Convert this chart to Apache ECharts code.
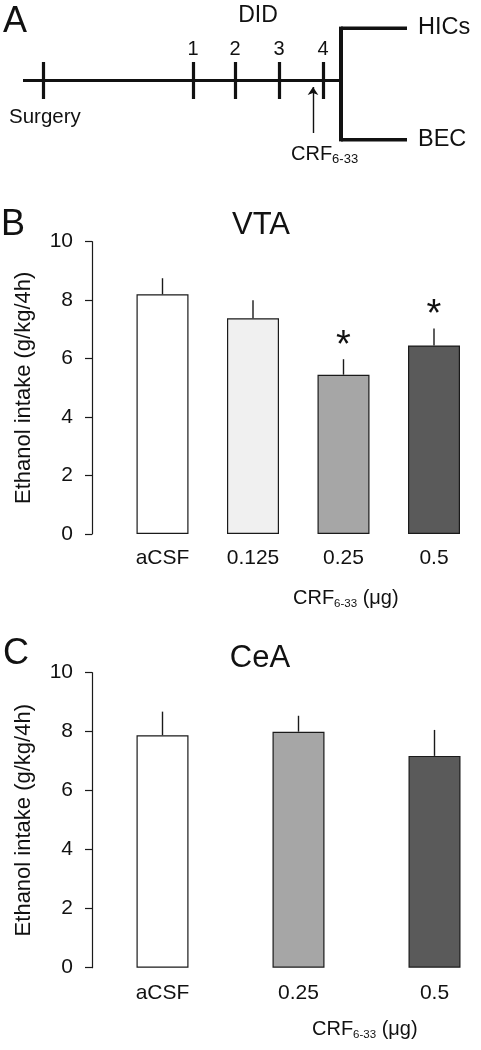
<!DOCTYPE html>
<html>
<head>
<meta charset="utf-8">
<script src="https://cdn.jsdelivr.net/npm/echarts@6/dist/echarts.min.js"></script>
<style>
html,body{margin:0;padding:0;background:#fff;}
#main{width:481px;height:1050px;}
</style>
</head>
<body>
<div id="main"></div>
<script>
// ---------- Panel A: schematic timeline (schematic units) ----------
const timelineLabels = ['Surgery', '1', '2', '3', '4'];
const timelinePos = [5, 42.5, 53, 64, 75];
const timelineStart = 0;
const timelineBranch = 79.5;
const timelineEnd = 96;
const injectionPos = 72.5;

// ---------- Panel B: VTA ----------
const vtaCategories = ['aCSF', '0.125', '0.25', '0.5'];
const vtaMeans = [8.2, 7.38, 5.45, 6.45];
const vtaSEM = [0.55, 0.62, 0.53, 0.58];
const vtaSignificant = [false, false, true, true];

// ---------- Panel C: CeA ----------
const ceaCategories = ['aCSF', '0.25', '0.5'];
const ceaMeans = [7.88, 8.0, 7.18];
const ceaSEM = [0.8, 0.54, 0.88];

const yMin = 0, yMax = 10, yInterval = 2;
const yName = 'Ethanol intake (g/kg/4h)';

const FONT = "'Liberation Sans', Arial, Helvetica, sans-serif";
const barColor = { 'aCSF': '#ffffff', '0.125': '#f0f0f0', '0.25': '#a6a6a6', '0.5': '#5a5a5a' };

const chart = echarts.init(document.getElementById('main'), null, { renderer: 'canvas' });

const mainY = 53.6, tickTop = 69.6, tickBot = 36.6, topY = 100, botY = 0;
const timelineLines = [
  { coords: [[timelineStart, mainY], [timelineBranch, mainY]], lineStyle: { width: 3.2 } },
  ...timelinePos.map(p => ({ coords: [[p, tickTop], [p, tickBot]], lineStyle: { width: 3.2 } })),
  { coords: [[timelineBranch, topY + 1.5], [timelineBranch, botY - 1.5]], lineStyle: { width: 4 } },
  { coords: [[timelineBranch, topY], [timelineEnd, topY]], lineStyle: { width: 4 } },
  { coords: [[timelineBranch, botY], [timelineEnd, botY]], lineStyle: { width: 4 } }
];

function barSeries(cats, means, ax) {
  return {
    type: 'bar', xAxisIndex: ax, yAxisIndex: ax, barWidth: 52, silent: true,
    data: means.map((v, i) => ({ value: v, itemStyle: { color: barColor[cats[i]], borderColor: '#1a1a1a', borderWidth: 1.2 } })),
    animation: false
  };
}
function errSeries(means, sem, ax) {
  return {
    type: 'custom', xAxisIndex: ax, yAxisIndex: ax, silent: true, animation: false, z: 1,
    data: means.map((v, i) => [i, v, sem[i]]),
    renderItem: function (params, api) {
      const a = api.coord([api.value(0), api.value(1)]);
      const b = api.coord([api.value(0), api.value(1) + api.value(2)]);
      return { type: 'line', shape: { x1: a[0], y1: a[1], x2: b[0], y2: b[1] }, style: { stroke: '#1a1a1a', lineWidth: 1.4 } };
    }
  };
}
function starSeries(means, sem, sig, ax) {
  return {
    type: 'custom', xAxisIndex: ax, yAxisIndex: ax, silent: true, animation: false,
    data: means.map((v, i) => [i, v + sem[i], sig[i] ? 1 : 0]).filter(d => d[2] === 1),
    renderItem: function (params, api) {
      const p = api.coord([api.value(0), api.value(1)]);
      return { type: 'text', x: p[0], y: p[1] - 32, style: { text: '*', font: '38px ' + FONT, fill: '#111', align: 'center', verticalAlign: 'top' } };
    }
  };
}

function yAxisCfg(gi) {
  return {
    type: 'value', gridIndex: gi, min: yMin, max: yMax, interval: yInterval, offset: 70.5,
    axisLine: { show: true, lineStyle: { color: '#1a1a1a', width: 1.2 } },
    axisTick: { show: true, length: 7, lineStyle: { color: '#1a1a1a', width: 1.2 } },
    splitLine: { show: false },
    axisLabel: { fontSize: 21, color: '#111', fontFamily: FONT, margin: 19 },
    name: yName, nameLocation: 'middle', nameRotate: 90, nameGap: 57,
    nameTextStyle: { fontSize: 22, color: '#111', fontFamily: FONT }
  };
}
function xAxisCfg(gi, cats, margin) {
  return {
    type: 'category', gridIndex: gi, data: cats, boundaryGap: false,
    axisLine: { show: false }, axisTick: { show: false },
    axisLabel: { fontSize: 21, color: '#111', fontFamily: FONT, margin: margin }
  };
}

function txt(text, x, y, size, align) {
  return { type: 'text', x: x, y: y, silent: true,
    style: { text: text, font: size + 'px ' + FONT, fill: '#111', align: align || 'left', verticalAlign: 'middle' } };
}
function crfLabel(x, y, size, subSize, unit) {
  return { type: 'text', x: x, y: y, silent: true,
    style: {
      text: '{m|CRF}{s|6-33}' + (unit ? '{m| (μg)}' : ''),
      font: size + 'px ' + FONT, fill: '#111', align: 'left', verticalAlign: 'middle',
      rich: {
        m: { fontSize: size, fontFamily: FONT, fill: '#111', lineHeight: size + 2, verticalAlign: 'top' },
        s: { fontSize: subSize, fontFamily: FONT, fill: '#111', lineHeight: subSize, verticalAlign: 'bottom', padding: [Math.round(size * 0.8), 0, 0, 0] }
      }
    } };
}

const option = {
  backgroundColor: '#ffffff',
  animation: false,
  grid: [
    { left: 23, width: 400, top: 28, height: 112 },
    { left: 162.5, right: 47, top: 241.7, bottom: 1050 - 534 },
    { left: 162.5, right: 46.5, top: 672.7, bottom: 1050 - 967.7 }
  ],
  xAxis: [
    { type: 'value', gridIndex: 0, min: 0, max: 100, show: false },
    xAxisCfg(1, vtaCategories, 14),
    xAxisCfg(2, ceaCategories, 15)
  ],
  yAxis: [
    { type: 'value', gridIndex: 0, min: 0, max: 100, show: false },
    yAxisCfg(1),
    yAxisCfg(2)
  ],
  series: [
    { type: 'lines', coordinateSystem: 'cartesian2d', xAxisIndex: 0, yAxisIndex: 0, silent: true,
      lineStyle: { color: '#111', width: 3, opacity: 1, cap: 'butt' }, data: timelineLines },
    { type: 'lines', coordinateSystem: 'cartesian2d', xAxisIndex: 0, yAxisIndex: 0, silent: true,
      symbol: ['none', 'arrow'], symbolSize: 8,
      lineStyle: { color: '#111', width: 1.4, opacity: 1 }, data: [{ coords: [[injectionPos, 6.25], [injectionPos, 47.3]] }] },
    { type: 'scatter', xAxisIndex: 0, yAxisIndex: 0, silent: true, symbolSize: 0,
      itemStyle: { opacity: 1 },
      data: timelinePos.slice(1).map((p, i) => ({ value: [p, tickTop], name: timelineLabels[i + 1] })),
      label: { show: true, position: 'top', distance: 3, formatter: '{b}', fontSize: 20, color: '#111', opacity: 1, fontFamily: FONT } },
    barSeries(vtaCategories, vtaMeans, 1),
    errSeries(vtaMeans, vtaSEM, 1),
    starSeries(vtaMeans, vtaSEM, vtaSignificant, 1),
    barSeries(ceaCategories, ceaMeans, 2),
    errSeries(ceaMeans, ceaSEM, 2)
  ],
  graphic: [
    txt('A', 3, 22, 36),
    txt('DID', 258, 16, 23, 'center'),
    txt('Surgery', 9, 117, 20.5),
    txt('HICs', 418, 28, 23.5),
    txt('BEC', 418, 140, 23.5),
    crfLabel(291, 155, 20, 13, false),
    txt('B', 1, 225, 36),
    txt('VTA', 261, 225, 31, 'center'),
    crfLabel(293, 599, 20, 11.5, true),
    txt('C', 3, 654, 36),
    txt('CeA', 260, 658, 31, 'center'),
    crfLabel(312, 1030, 20, 11.5, true)
  ]
};
chart.setOption(option);
</script>
</body>
</html>
